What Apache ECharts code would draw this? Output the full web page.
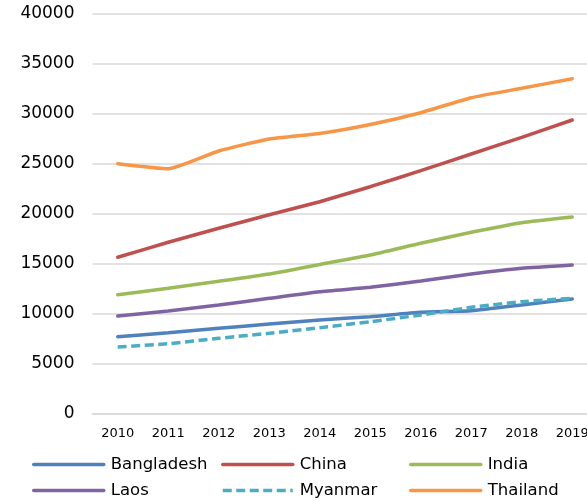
<!DOCTYPE html>
<html>
<head>
<meta charset="utf-8">
<script src="https://cdn.jsdelivr.net/npm/echarts@6/dist/echarts.min.js"></script>
<style>
html,body{margin:0;padding:0;background:#fff;overflow:hidden;}
#c{width:600px;height:501px;}
</style>
</head>
<body>
<div id="c"></div>
<script>
var years = ['2010','2011','2012','2013','2014','2015','2016','2017','2018','2019'];
var bangladesh = [7730, 8130, 8570, 9000, 9400, 9730, 10170, 10330, 10900, 11500];
var china      = [15670, 17170, 18570, 19920, 21230, 22730, 24330, 26000, 27670, 29400];
var india      = [11930, 12570, 13270, 14000, 14950, 15900, 17070, 18170, 19130, 19700];
var laos       = [9800, 10300, 10900, 11570, 12230, 12670, 13300, 14000, 14570, 14900];
var myanmar    = [6700, 7030, 7570, 8070, 8630, 9230, 9900, 10670, 11230, 11570];
var thailand   = [25030, 24520, 26300, 27500, 28050, 28950, 30130, 31630, 32570, 33530];

var names = ['Bangladesh','China','India','Laos','Myanmar','Thailand'];
var dataSets = [bangladesh, china, india, laos, myanmar, thailand];
var colors = ['#4F81BD','#C0504D','#9BBB59','#8064A2','#4BACC6','#F79646'];

var chart = echarts.init(document.getElementById('c'));
var FONT = 'DejaVu Sans';

var series = names.map(function(n, i){
  return {
    name: n,
    type: 'line',
    data: dataSets[i],
    symbol: 'none',
    smooth: 0.15,
    z: 10 + (i === 4 ? 1 : 0),
    lineStyle: {
      color: colors[i],
      width: 3.5,
      type: n === 'Myanmar' ? [9, 4.5] : 'solid',
      cap: n === 'Myanmar' ? 'butt' : 'round'
    },
    itemStyle: {color: colors[i]}
  };
});

var colX = [27, 216, 404];
var rowY = [451, 477];
var legends = names.map(function(n, i){
  return {
    data: [n],
    left: colX[i % 3],
    top: rowY[Math.floor(i / 3)],
    itemWidth: 70,
    itemHeight: 16,
    itemGap: 0,
    itemStyle: {opacity: 0},
    lineStyle: {width: 3.5, cap: n === 'Myanmar' ? 'butt' : 'round'},
    textStyle: {fontFamily: FONT, fontSize: 16.5, color: '#000', padding: [0,0,0,2]}
  };
});

chart.setOption({
  animation: false,
  backgroundColor: '#fff',
  color: colors,
  grid: {left: 92.5, right: 2.5, top: 14, bottom: 87, containLabel: false},
  legend: legends,
  xAxis: {
    type: 'category',
    data: years,
    boundaryGap: true,
    axisLine: {show: true, lineStyle: {color: '#D9D9D9', width: 1.5}},
    axisTick: {show: false},
    axisLabel: {fontFamily: FONT, fontSize: 13, color: '#000', margin: 13},
    splitLine: {show: false}
  },
  yAxis: {
    type: 'value',
    min: 0,
    max: 40000,
    interval: 5000,
    axisLine: {show: false},
    axisTick: {show: false},
    axisLabel: {fontFamily: FONT, fontSize: 17, color: '#000', margin: 18,
      formatter: function(v){ return String(v); }},
    splitLine: {show: true, lineStyle: {color: '#D9D9D9', width: 1.5}}
  },
  series: series
});
</script>
</body>
</html>
